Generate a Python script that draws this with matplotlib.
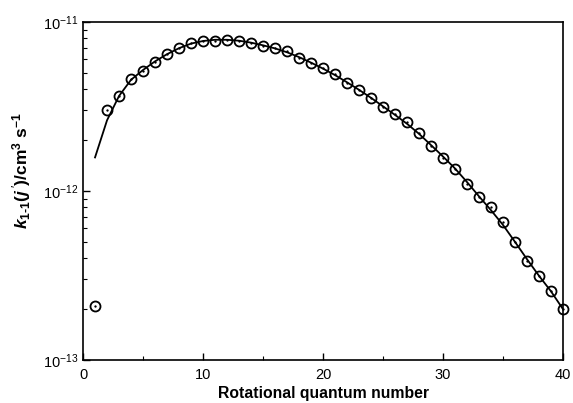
import matplotlib
matplotlib.use("Agg")
import matplotlib.pyplot as plt
import numpy as np

plt.rcParams['font.family'] = ['Liberation Sans', 'DejaVu Sans']
plt.rcParams['mathtext.fontset'] = 'custom'
plt.rcParams['mathtext.rm'] = 'Liberation Sans'
plt.rcParams['mathtext.it'] = 'Liberation Sans:italic'
plt.rcParams['mathtext.bf'] = 'Liberation Sans:bold'
plt.rcParams['mathtext.bfit'] = 'Liberation Sans:bold:italic'

j_vals = list(range(1, 41))
marker_vals = [2.1e-13, 3.01e-12, 3.66e-12, 4.58e-12, 5.13e-12, 5.78e-12, 6.47e-12, 7.05e-12,
               7.48e-12, 7.76e-12, 7.76e-12, 7.86e-12, 7.69e-12, 7.48e-12, 7.18e-12, 6.99e-12,
               6.73e-12, 6.15e-12, 5.69e-12, 5.37e-12, 4.92e-12, 4.37e-12, 3.96e-12, 3.57e-12,
               3.16e-12, 2.86e-12, 2.55e-12, 2.19e-12, 1.84e-12, 1.57e-12, 1.35e-12, 1.10e-12,
               9.25e-13, 8.07e-13, 6.56e-13, 4.97e-13, 3.85e-13, 3.16e-13, 2.57e-13, 2.00e-13]
line_vals = [1.58e-12, 2.62e-12, 3.65e-12, 4.55e-12, 5.2e-12, 5.85e-12, 6.45e-12, 7.0e-12,
             7.45e-12, 7.72e-12, 7.85e-12, 7.85e-12, 7.75e-12, 7.55e-12, 7.28e-12, 6.98e-12,
             6.62e-12, 6.2e-12, 5.75e-12, 5.3e-12, 4.85e-12, 4.4e-12, 3.97e-12, 3.56e-12,
             3.17e-12, 2.82e-12, 2.5e-12, 2.18e-12, 1.87e-12, 1.6e-12, 1.36e-12, 1.13e-12,
             9.3e-13, 7.7e-13, 6.3e-13, 5.0e-13, 3.95e-13, 3.15e-13, 2.55e-13, 2.0e-13]
y_major = [1e-13, 1e-12, 1e-11]
y_minor = [m * 10.0 ** e for e in (-13, -12) for m in range(2, 10)]

fig = plt.figure(figsize=(5.73, 4.03), dpi=100)
ax = fig.add_axes([0.1449, 0.1067, 0.8376, 0.8387])

ax.plot(j_vals, line_vals, color='black', lw=1.3, zorder=2)
ax.plot(j_vals, marker_vals, linestyle='none', marker='o', ms=7.2, mfc='none',
        mec='black', mew=1.3, clip_on=False, zorder=3)
ax.plot(j_vals, marker_vals, linestyle='none', marker='o', ms=1.3, mfc='black',
        mec='black', mew=0.3, clip_on=False, zorder=4)

ax.set_yscale('log')
ax.set_xlim(0, 40)
ax.set_ylim(1e-13, 1e-11)
ax.set_xticks([0, 10, 20, 30, 40])
ax.set_xticks([5, 15, 25, 35], minor=True)
ax.set_yticks(y_major)
ax.set_yticks(y_minor, minor=True)
ax.yaxis.set_major_formatter(matplotlib.ticker.LogFormatterSciNotation())
ax.yaxis.set_minor_formatter(matplotlib.ticker.NullFormatter())

ax.tick_params(which='both', direction='in', top=False, right=False, labelsize=10.5)
ax.tick_params(axis='x', which='major', pad=6)
ax.tick_params(which='major', length=5, width=1)
ax.tick_params(which='minor', length=3, width=0.8)
for s in ax.spines.values():
    s.set_linewidth(1.2)

hy = "\u2010"
ylab = (r"$\boldsymbol{k}_{\mathbf{1" + hy + r"1}}\mathbf{(}\boldsymbol{j\,'}"
        r"\mathbf{)/cm}^{\mathbf{3}}\ \mathbf{s}^{\mathbf{-1}}$")
ax.set_xlabel('Rotational quantum number', fontsize=11.3, fontweight='bold', labelpad=3)
ax.set_ylabel(ylab, fontsize=12.5)
ax.yaxis.set_label_coords(-0.105, 0.56)

fig.savefig('out.png', dpi=100)
